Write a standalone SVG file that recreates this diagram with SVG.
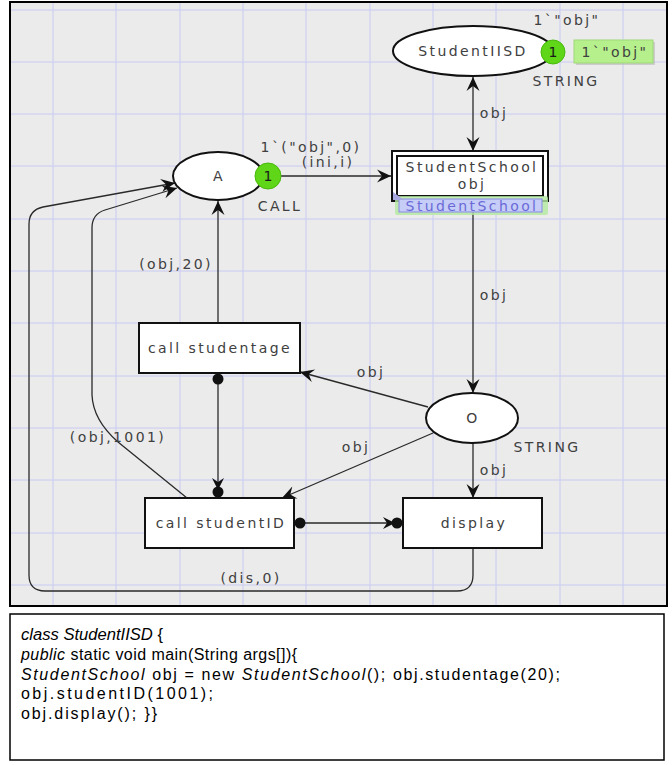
<svg xmlns="http://www.w3.org/2000/svg" width="672" height="765" viewBox="0 0 672 765">
  <style>
    .lbl { font-family: "DejaVu Sans", Verdana, sans-serif; font-size: 14px; letter-spacing: 2.4px; fill: #404040; text-anchor: middle; }
    .node { fill: #ffffff; stroke: #111111; stroke-width: 2; }
    .arc { fill: none; stroke: #2a2a2a; stroke-width: 1.3; }
    .grid { stroke: #cacaf4; stroke-width: 1; }
    .token { fill: #5fd618; stroke: #49b80c; stroke-width: 1; }
    .code { font-family: "Liberation Sans", Arial, sans-serif; font-size: 16px; fill: #000000; }
  </style>
  <defs>
    <marker id="arrow" markerUnits="userSpaceOnUse" markerWidth="18" markerHeight="16" refX="0" refY="0" viewBox="-16 -8 18 16" orient="auto-start-reverse">
      <path d="M0,0 L-14,-6.5 L-9,0 L-14,6.5 z" fill="#111111"/>
    </marker>
    <marker id="arrowdot" markerUnits="userSpaceOnUse" markerWidth="28" markerHeight="16" refX="0" refY="0" viewBox="-26 -8 28 16" orient="auto">
      <circle cx="-6" cy="0" r="5.5" fill="#111111"/>
      <path d="M-8,0 L-20,-6 L-16,0 L-20,6 z" fill="#111111"/>
    </marker>
    <marker id="dot" markerUnits="userSpaceOnUse" markerWidth="16" markerHeight="16" refX="0" refY="0" viewBox="-8 -8 16 16" orient="auto">
      <circle cx="0" cy="0" r="5.5" fill="#111111"/>
    </marker>
  </defs>

  <!-- page background and grid -->
  <rect x="10" y="2" width="657" height="604" fill="#ebebeb"/>
  <g id="grid">
    <line class="grid" x1="53" y1="3" x2="53" y2="605"/>
    <line class="grid" x1="116" y1="3" x2="116" y2="605"/>
    <line class="grid" x1="180" y1="3" x2="180" y2="605"/>
    <line class="grid" x1="243" y1="3" x2="243" y2="605"/>
    <line class="grid" x1="306" y1="3" x2="306" y2="605"/>
    <line class="grid" x1="370" y1="3" x2="370" y2="605"/>
    <line class="grid" x1="433" y1="3" x2="433" y2="605"/>
    <line class="grid" x1="496" y1="3" x2="496" y2="605"/>
    <line class="grid" x1="560" y1="3" x2="560" y2="605"/>
    <line class="grid" x1="623" y1="3" x2="623" y2="605"/>
    <line class="grid" x1="11" y1="10" x2="666" y2="10"/>
    <line class="grid" x1="11" y1="62" x2="666" y2="62"/>
    <line class="grid" x1="11" y1="114" x2="666" y2="114"/>
    <line class="grid" x1="11" y1="166" x2="666" y2="166"/>
    <line class="grid" x1="11" y1="219" x2="666" y2="219"/>
    <line class="grid" x1="11" y1="271" x2="666" y2="271"/>
    <line class="grid" x1="11" y1="323" x2="666" y2="323"/>
    <line class="grid" x1="11" y1="376" x2="666" y2="376"/>
    <line class="grid" x1="11" y1="428" x2="666" y2="428"/>
    <line class="grid" x1="11" y1="480" x2="666" y2="480"/>
    <line class="grid" x1="11" y1="533" x2="666" y2="533"/>
    <line class="grid" x1="11" y1="585" x2="666" y2="585"/>
  </g>
  <rect x="10" y="2" width="657" height="604" fill="none" stroke="#000000" stroke-width="2"/>

  <!-- arcs -->
  <g id="connectors">
    <path class="arc" d="M473,77 L473,151" marker-start="url(#arrow)" marker-end="url(#arrow)"/>
    <path class="arc" d="M281,176 L391,176" marker-end="url(#arrow)"/>
    <path class="arc" d="M473,212 L473,393" marker-end="url(#arrow)"/>
    <path class="arc" d="M218,323 L218,201" marker-end="url(#arrow)"/>
    <path class="arc" d="M428,407 L300,372" marker-end="url(#arrow)"/>
    <path class="arc" d="M218,379 L218,498" marker-start="url(#dot)" marker-end="url(#arrowdot)"/>
    <path class="arc" d="M300,523 L403,523" marker-start="url(#dot)" marker-end="url(#arrowdot)"/>
    <path class="arc" d="M433,433 L282,498" marker-end="url(#arrow)"/>
    <path class="arc" d="M473,443 L473,498" marker-end="url(#arrow)"/>
    <path class="arc" d="M473,548 L473,575 Q473,591 457,591 L45,591 Q29,591 29,575 L29,224 Q29,210 43,207 L175,183" marker-end="url(#arrow)"/>
    <path class="arc" d="M187,498 L118,442 Q93,420 92,395 L92,228 Q92,214 105,210 L177,188" marker-end="url(#arrow)"/>
  </g>

  <!-- arc inscriptions -->
  <g id="arc-labels">
    <text class="lbl" x="494" y="118">obj</text>
    <text class="lbl" x="311" y="152">1`("obj",0)</text>
    <text class="lbl" x="328" y="167">(ini,i)</text>
    <text class="lbl" x="494" y="300">obj</text>
    <text class="lbl" x="176" y="269">(obj,20)</text>
    <text class="lbl" x="371" y="377">obj</text>
    <text class="lbl" x="356" y="452">obj</text>
    <text class="lbl" x="494" y="475">obj</text>
    <text class="lbl" x="118" y="442">(obj,1001)</text>
    <text class="lbl" x="251" y="583">(dis,0)</text>
  </g>

  <!-- place StudentIISD -->
  <g id="StudentIISD">
    <ellipse class="node" cx="473" cy="51" rx="80" ry="25"/>
    <text class="lbl" x="473" y="56">StudentIISD</text>
    <text class="lbl" x="567" y="25">1`"obj"</text>
    <text class="lbl" x="566" y="86">STRING</text>
    <circle class="token" cx="553" cy="52" r="12"/>
    <text x="553" y="57" font-family="DejaVu Sans, sans-serif" font-size="14" fill="#1a1a1a" text-anchor="middle">1</text>
    <rect x="576" y="42" width="79" height="23" fill="#b0b0b0" opacity="0.5"/>
    <rect x="574" y="40" width="79" height="23" fill="#b6f08c" stroke="#9fd878" stroke-width="1"/>
    <text class="lbl" x="615" y="57">1`"obj"</text>
  </g>

  <!-- place A -->
  <g id="A">
    <ellipse class="node" cx="218" cy="176" rx="45" ry="24"/>
    <text class="lbl" x="219" y="181">A</text>
    <text class="lbl" x="280" y="211">CALL</text>
    <circle class="token" cx="268" cy="176" r="13"/>
    <text x="268" y="181" font-family="DejaVu Sans, sans-serif" font-size="14" fill="#1a1a1a" text-anchor="middle">1</text>
  </g>

  <!-- substitution transition StudentSchool -->
  <g id="StudentSchool">
    <rect x="392" y="151" width="156" height="50" fill="#ffffff" stroke="#111111" stroke-width="2"/>
    <rect x="397" y="156" width="146" height="40" fill="#ffffff" stroke="#111111" stroke-width="2"/>
    <text class="lbl" x="472" y="172">StudentSchool</text>
    <text class="lbl" x="472" y="189">obj</text>
    <rect x="395" y="196" width="153" height="19" rx="2" fill="#b4eaa0" opacity="0.8"/>
    <rect x="399" y="199" width="143" height="13" fill="#c6cdf6" stroke="#8a8ae6" stroke-width="1"/>
    <path d="M393,192 L393,200 L404,200 z" fill="#a8a8e0"/>
    <text class="lbl" x="472" y="211" style="fill:#6a6ad8">StudentSchool</text>
  </g>

  <!-- transition call studentage -->
  <g id="call-studentage">
    <rect class="node" x="139" y="323" width="161" height="50"/>
    <text class="lbl" x="220" y="353">call studentage</text>
  </g>

  <!-- place O -->
  <g id="O">
    <ellipse class="node" cx="472" cy="418" rx="46" ry="25"/>
    <text class="lbl" x="473" y="423">O</text>
    <text class="lbl" x="547" y="452">STRING</text>
  </g>

  <!-- transition call studentID -->
  <g id="call-studentID">
    <rect class="node" x="145" y="498" width="149" height="50"/>
    <text class="lbl" x="221" y="528">call studentID</text>
  </g>

  <!-- transition display -->
  <g id="display">
    <rect class="node" x="403" y="498" width="139" height="50"/>
    <text class="lbl" x="474" y="528">display</text>
  </g>

  <!-- source listing -->
  <g id="code">
    <rect x="10" y="614" width="654" height="146" fill="#ffffff" stroke="#000000" stroke-width="1.5"/>
    <text class="code" x="21" y="640" textLength="142" lengthAdjust="spacingAndGlyphs"><tspan font-style="italic">class StudentIISD</tspan> {</text>
    <text class="code" x="21" y="660" textLength="276" lengthAdjust="spacing"><tspan font-style="italic">public</tspan> static void main(String  args[]){</text>
    <text class="code" x="21" y="680" textLength="539" lengthAdjust="spacing"><tspan font-style="italic">StudentSchool</tspan> obj = new  <tspan font-style="italic">StudentSchool</tspan>();  obj.studentage(20);</text>
    <text class="code" x="21" y="699" textLength="192" lengthAdjust="spacing">obj.studentID(1001);</text>
    <text class="code" x="21" y="719" textLength="136" lengthAdjust="spacing">obj.display(); }}</text>
  </g>
</svg>
